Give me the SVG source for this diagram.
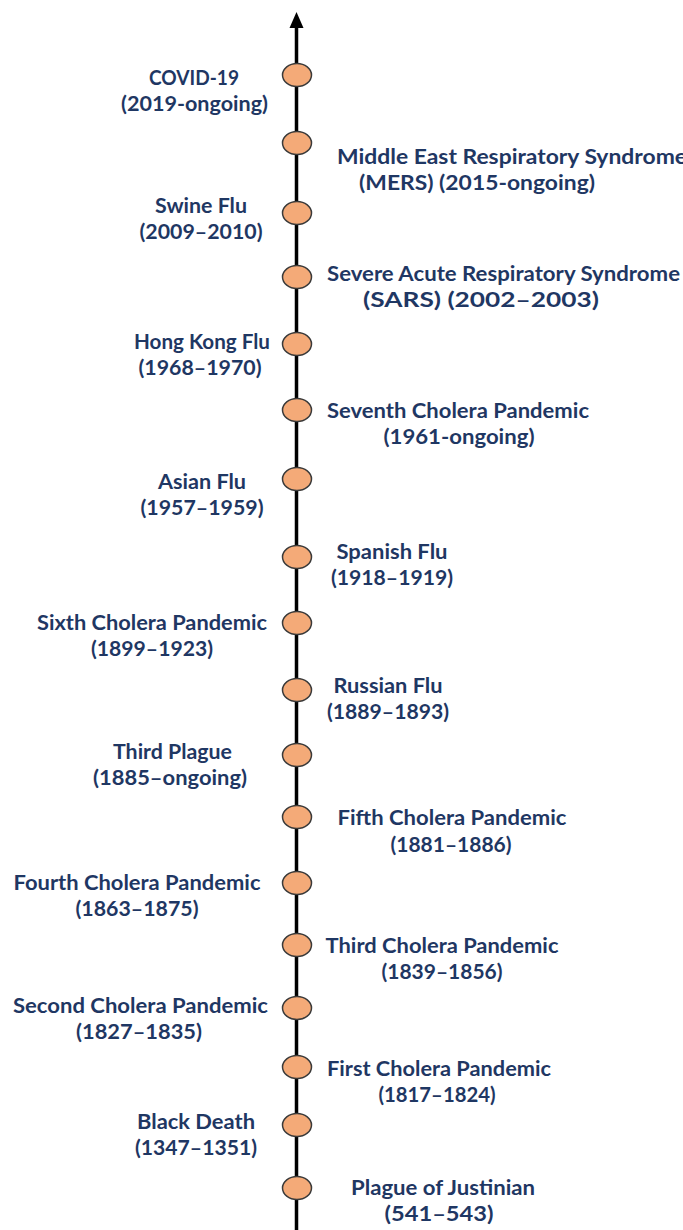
<svg xmlns="http://www.w3.org/2000/svg" width="683" height="1230" viewBox="0 0 683 1230">
<defs>
<style>
.t{font-family:Lato,"Open Sans","Liberation Sans",sans-serif;font-weight:bold;font-size:20px;fill:#1F3763;text-anchor:middle}
.s{text-anchor:start}
.c{fill:#F4AA78;stroke:#3a3a3a;stroke-width:1.5}
</style>
</defs>
<rect width="683" height="1230" fill="#fff"/>
<g id="connectors">
<line x1="296.5" y1="1230" x2="296.5" y2="26" stroke="#000" stroke-width="3.5"/>
<path d="M296.5,12 L303.5,28 L289.5,28 Z" fill="#000"/>
</g>
<g id="n1"><ellipse class="c" cx="297" cy="75" rx="14.5" ry="11.5"/><text class="t" x="194" y="85" textLength="90" lengthAdjust="spacingAndGlyphs">COVID-19</text><text class="t" x="194.5" y="111" textLength="147" lengthAdjust="spacingAndGlyphs">(2019-ongoing)</text></g>
<g id="n2"><ellipse class="c" cx="297" cy="143" rx="14.5" ry="11.5"/><text class="t s" x="337" y="164" textLength="350" lengthAdjust="spacingAndGlyphs">Middle East Respiratory Syndrome</text><text class="t" x="477" y="190" textLength="236" lengthAdjust="spacingAndGlyphs">(MERS) (2015-ongoing)</text></g>
<g id="n3"><ellipse class="c" cx="297" cy="213" rx="14.5" ry="11.5"/><text class="t" x="201" y="213" textLength="92" lengthAdjust="spacingAndGlyphs">Swine Flu</text><text class="t" x="201" y="239" textLength="123" lengthAdjust="spacingAndGlyphs">(2009–2010)</text></g>
<g id="n4"><ellipse class="c" cx="297" cy="277" rx="14.5" ry="11.5"/><text class="t s" x="327" y="281" textLength="353" lengthAdjust="spacingAndGlyphs">Severe Acute Respiratory Syndrome</text><text class="t" x="481" y="307" textLength="236" lengthAdjust="spacingAndGlyphs">(SARS) (2002–2003)</text></g>
<g id="n5"><ellipse class="c" cx="297" cy="344" rx="14.5" ry="11.5"/><text class="t" x="202" y="349" textLength="136" lengthAdjust="spacingAndGlyphs">Hong Kong Flu</text><text class="t" x="200" y="375" textLength="123" lengthAdjust="spacingAndGlyphs">(1968–1970)</text></g>
<g id="n6"><ellipse class="c" cx="297" cy="410" rx="14.5" ry="11.5"/><text class="t" x="458" y="418" textLength="262" lengthAdjust="spacingAndGlyphs">Seventh Cholera Pandemic</text><text class="t" x="459" y="444" textLength="151" lengthAdjust="spacingAndGlyphs">(1961-ongoing)</text></g>
<g id="n7"><ellipse class="c" cx="297" cy="479" rx="14.5" ry="11.5"/><text class="t" x="202" y="489" textLength="88" lengthAdjust="spacingAndGlyphs">Asian Flu</text><text class="t" x="202" y="515" textLength="123" lengthAdjust="spacingAndGlyphs">(1957–1959)</text></g>
<g id="n8"><ellipse class="c" cx="297" cy="557" rx="14.5" ry="11.5"/><text class="t" x="392" y="559" textLength="111" lengthAdjust="spacingAndGlyphs">Spanish Flu</text><text class="t" x="392" y="585" textLength="122" lengthAdjust="spacingAndGlyphs">(1918–1919)</text></g>
<g id="n9"><ellipse class="c" cx="297" cy="623" rx="14.5" ry="11.5"/><text class="t" x="152" y="630" textLength="230" lengthAdjust="spacingAndGlyphs">Sixth Cholera Pandemic</text><text class="t" x="152" y="656" textLength="122" lengthAdjust="spacingAndGlyphs">(1899–1923)</text></g>
<g id="n10"><ellipse class="c" cx="297" cy="690" rx="14.5" ry="11.5"/><text class="t" x="388" y="693" textLength="109" lengthAdjust="spacingAndGlyphs">Russian Flu</text><text class="t" x="388" y="719" textLength="122" lengthAdjust="spacingAndGlyphs">(1889–1893)</text></g>
<g id="n11"><ellipse class="c" cx="297" cy="755" rx="14.5" ry="11.5"/><text class="t" x="172.5" y="759" textLength="119" lengthAdjust="spacingAndGlyphs">Third Plague</text><text class="t" x="170" y="785" textLength="154" lengthAdjust="spacingAndGlyphs">(1885–ongoing)</text></g>
<g id="n12"><ellipse class="c" cx="297" cy="817" rx="14.5" ry="11.5"/><text class="t" x="452" y="825" textLength="229" lengthAdjust="spacingAndGlyphs">Fifth Cholera Pandemic</text><text class="t" x="451" y="852" textLength="121" lengthAdjust="spacingAndGlyphs">(1881–1886)</text></g>
<g id="n13"><ellipse class="c" cx="297" cy="883" rx="14.5" ry="11.5"/><text class="t" x="137" y="890" textLength="247" lengthAdjust="spacingAndGlyphs">Fourth Cholera Pandemic</text><text class="t" x="137" y="916" textLength="123" lengthAdjust="spacingAndGlyphs">(1863–1875)</text></g>
<g id="n14"><ellipse class="c" cx="297" cy="945" rx="14.5" ry="11.5"/><text class="t" x="442" y="953" textLength="233" lengthAdjust="spacingAndGlyphs">Third Cholera Pandemic</text><text class="t" x="442" y="979" textLength="121" lengthAdjust="spacingAndGlyphs">(1839–1856)</text></g>
<g id="n15"><ellipse class="c" cx="297" cy="1008" rx="14.5" ry="11.5"/><text class="t" x="140.5" y="1013" textLength="255" lengthAdjust="spacingAndGlyphs">Second Cholera Pandemic</text><text class="t" x="139" y="1039" textLength="126" lengthAdjust="spacingAndGlyphs">(1827–1835)</text></g>
<g id="n16"><ellipse class="c" cx="297" cy="1067" rx="14.5" ry="11.5"/><text class="t" x="439" y="1076" textLength="224" lengthAdjust="spacingAndGlyphs">First Cholera Pandemic</text><text class="t" x="437" y="1102" textLength="117" lengthAdjust="spacingAndGlyphs">(1817–1824)</text></g>
<g id="n17"><ellipse class="c" cx="297" cy="1125" rx="14.5" ry="11.5"/><text class="t" x="196" y="1129" textLength="118" lengthAdjust="spacingAndGlyphs">Black Death</text><text class="t" x="196" y="1155" textLength="122" lengthAdjust="spacingAndGlyphs">(1347–1351)</text></g>
<g id="n18"><ellipse class="c" cx="297" cy="1188" rx="14.5" ry="11.5"/><text class="t" x="443" y="1195" textLength="184" lengthAdjust="spacingAndGlyphs">Plague of Justinian</text><text class="t" x="439" y="1221" textLength="109" lengthAdjust="spacingAndGlyphs">(541–543)</text></g>
</svg>
